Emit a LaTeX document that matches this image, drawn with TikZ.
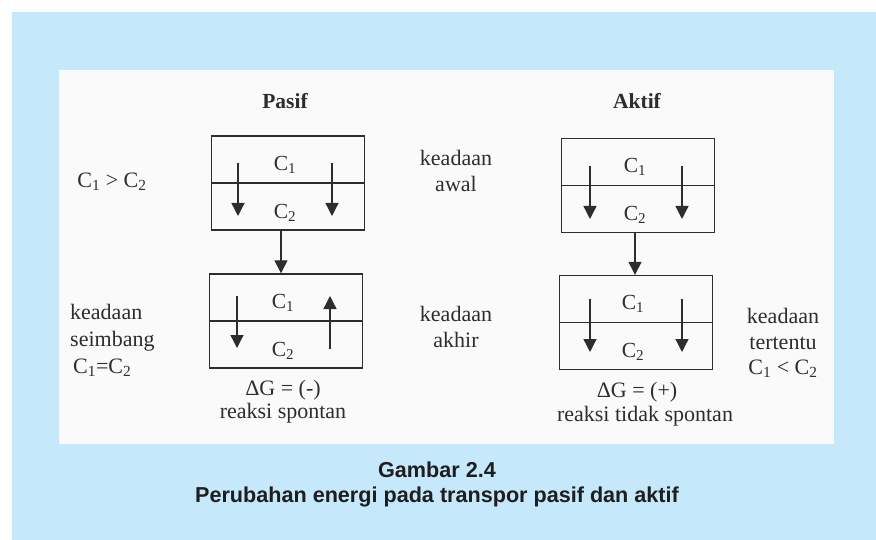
\documentclass[tikz,border=0pt]{standalone}
\usepackage{fontspec}
\setmainfont{Liberation Serif}
\newfontfamily\capfont{Liberation Sans}
\usetikzlibrary{arrows.meta,calc}

\definecolor{panelblue}{RGB}{197,232,250}
\definecolor{paper}{RGB}{250,250,250}
\definecolor{ink}{RGB}{45,45,45}
\definecolor{captionink}{RGB}{30,30,30}

\newcommand{\Cn}[1]{C\textsubscript{#1}}

\tikzset{
  cell/.style={draw=ink, line width=1.4pt, minimum width=153pt, minimum height=47pt, inner sep=0pt},
  flow/.style={draw=ink, line width=1.3pt, -{Triangle[width=13pt,length=13pt]}},
  conc/.style={text=ink, inner sep=0pt, font=\fontsize{21.5}{24}\selectfont},
  note/.style={text=ink, inner sep=0pt, font=\fontsize{22}{26.5}\selectfont},
  head/.style={text=ink, inner sep=0pt, font=\fontsize{21.5}{24}\selectfont\bfseries},
  caption/.style={text=captionink, inner sep=0pt, align=center, font=\fontsize{21.6}{25}\selectfont\capfont\bfseries}
}

\begin{document}
\begin{tikzpicture}[x=1pt,y=-1pt]
\useasboundingbox (0,0) rectangle (876,540);
\fill[white] (0,0) rectangle (876,540);
\fill[panelblue] (12,12) rectangle (876,540);
\fill[paper] (59,70) rectangle (834,444);

% column headings
\node[head] (hpasif) at (285,101) {Pasif};
\node[head] (haktif) at (637,101) {Aktif};

% passive transport: initial and final state
\node[cell] (p1u) at (288,159.5) {};
\node[cell] (p1l) at (288,206.5) {};
\node[cell] (p2u) at (286,297.5) {};
\node[cell] (p2l) at (286,344.5) {};

% active transport: initial and final state
\node[cell] (a1u) at (638,162) {};
\node[cell] (a1l) at (638,209) {};
\node[cell] (a2u) at (636,299) {};
\node[cell] (a2l) at (636,346) {};

% concentration labels inside the cells
\foreach \c in {p1,p2,a1,a2}{
  \node[conc] at ($(\c u.center)+(-3,5)$) {\Cn{1}};
  \node[conc] at ($(\c l.center)+(-3,6)$) {\Cn{2}};
}

% flux arrows across the membrane
\coordinate (p1a) at (238,163); \coordinate (p1b) at (238,216);
\coordinate (p1c) at (332,163); \coordinate (p1d) at (332,216);
\draw[flow] (p1a) -- (p1b);
\draw[flow] (p1c) -- (p1d);

\coordinate (p2a) at (237,296); \coordinate (p2b) at (237,348);
\coordinate (p2c) at (330,349); \coordinate (p2d) at (330,296);
\draw[flow] (p2a) -- (p2b);
\draw[flow] (p2c) -- (p2d);

\coordinate (a1a) at (590,166); \coordinate (a1b) at (590,219);
\coordinate (a1c) at (682,166); \coordinate (a1d) at (682,219);
\draw[flow] (a1a) -- (a1b);
\draw[flow] (a1c) -- (a1d);

\coordinate (a2a) at (590,299); \coordinate (a2b) at (590,352);
\coordinate (a2c) at (682,299); \coordinate (a2d) at (682,352);
\draw[flow] (a2a) -- (a2b);
\draw[flow] (a2c) -- (a2d);

% transitions from initial to final state
\coordinate (pc) at (281,0);
\coordinate (ac) at (635,0);
\draw[flow] (p1l.south -| pc) -- (p2u.north -| pc);
\draw[flow] (a1l.south -| ac) -- (a2u.north -| ac);

% side notes
\node[note] (lgt) at (112,182) {\Cn{1} > \Cn{2}};
\node[note, align=left, anchor=west, font=\fontsize{22}{27}\selectfont] (lseim) at (70,340) {keadaan\\seimbang\\\hspace{3pt}\Cn{1}=\Cn{2}};
\node[note, align=center] (mawal) at (456,171) {keadaan\\awal};
\node[note, align=center] (makhir) at (456,327) {keadaan\\akhir};
\node[note, align=center, font=\fontsize{22}{25.5}\selectfont] (rtert) at (783,343) {keadaan\\tertentu\\\Cn{1} < \Cn{2}};

% free energy notes
\node[note, align=center, font=\fontsize{22}{23}\selectfont] (gpasif) at (283,402) {ΔG = (-)\\reaksi spontan};
\node[note] (gaktif) at (637,392) {ΔG = (+)};
\node[note] (raktif) at (645,416) {reaksi tidak spontan};

% figure caption
\node[caption] (cap) at (437,484) {Gambar 2.4\\Perubahan energi pada transpor pasif dan aktif};
\end{tikzpicture}
\end{document}
